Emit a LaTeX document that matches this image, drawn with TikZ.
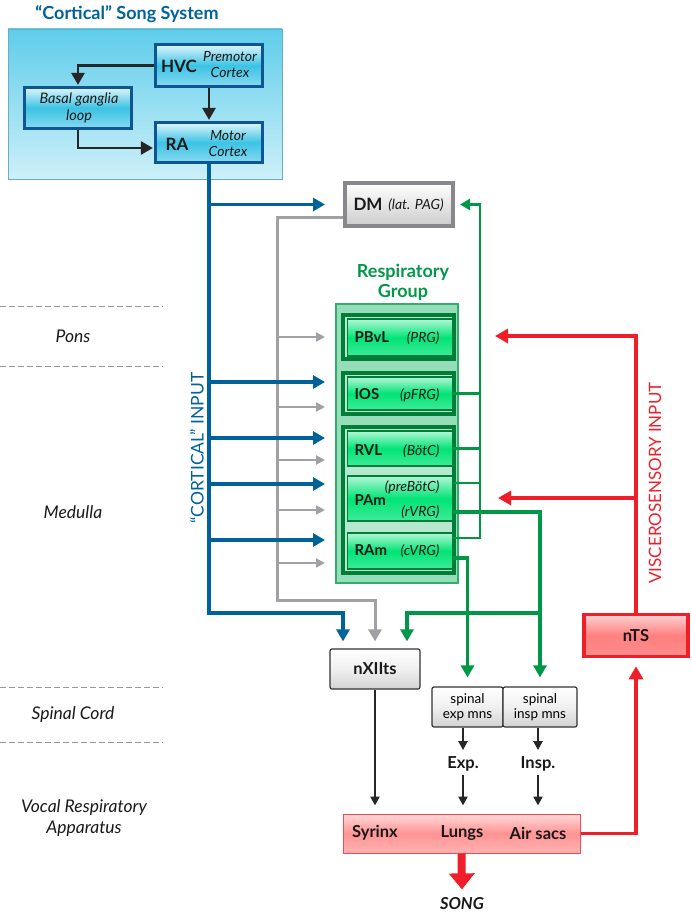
\documentclass[tikz,border=0pt]{standalone}
\usepackage{fontspec}
\setmainfont{Lato}
\usetikzlibrary{arrows.meta}

\newlength{\du}
\setlength{\du}{1pt}
\newcommand{\fsz}[2]{\fontsize{#1}{#2}\selectfont}

\definecolor{cortblue}{RGB}{0,98,155}
\definecolor{boxblue}{RGB}{15,85,145}
\definecolor{skytop}{RGB}{95,205,235}
\definecolor{skybot}{RGB}{205,240,249}
\definecolor{skymid}{RGB}{60,195,228}
\definecolor{respgreen}{RGB}{0,152,70}
\definecolor{darkgreen}{RGB}{0,125,55}
\definecolor{lightgreen}{RGB}{150,222,185}
\definecolor{brightgreen}{RGB}{0,228,118}
\definecolor{paggray}{RGB}{160,160,165}
\definecolor{viscred}{RGB}{240,30,40}
\definecolor{textgray}{RGB}{25,25,25}

\tikzset{
  % boxes
  cortexbg/.style={draw=skytop!60!gray, line width=0.8\du, top color=skytop, bottom color=skybot},
  cortexbox/.style={draw=boxblue, line width=3.2\du, top color=skytop!20, bottom color=skytop!75, middle color=skymid, minimum width=107\du, inner sep=0pt},
  dmbox/.style={draw=paggray!85!black, line width=4\du, top color=white, bottom color=gray!40, middle color=gray!20, minimum width=108\du, minimum height=43\du},
  grpbox/.style={draw=respgreen!80, line width=1.2\du, fill=lightgreen},
  rframe/.style={draw=darkgreen, line width=4\du, fill=lightgreen!70, minimum width=111\du},
  respbox/.style={draw=darkgreen, line width=1.6\du, top color=brightgreen!30, bottom color=brightgreen!75, middle color=brightgreen, minimum width=105\du, inner sep=0pt},
  greybox/.style={draw=black!80, line width=1.2\du, rounded corners=2\du, top color=white, bottom color=gray!35, middle color=gray!12},
  apparbox/.style={draw=viscred!80, line width=1\du, top color=red!15, bottom color=red!30, middle color=red!42},
  ntsbox/.style={draw=viscred, line width=3.5\du, top color=red!18, bottom color=red!45, middle color=red!50, minimum width=104\du, minimum height=42\du},
  % texts
  bigbold/.style={font=\fsz{17}{20}\bfseries, text=textgray},
  midbold/.style={font=\fsz{15}{18}\bfseries, text=textgray},
  lowbold/.style={font=\fsz{16.5}{19}\bfseries, text=textgray},
  itsub/.style={font=\fsz{14}{16}\itshape, text=textgray, align=center},
  regiontxt/.style={font=\fsz{17.5}{21}\itshape, text=textgray, align=center},
  % wires
  bluewire/.style={line width=3.6\du, draw=cortblue},
  graywire/.style={line width=3\du, draw=paggray},
  grayfine/.style={line width=2\du, draw=paggray},
  greenwire/.style={line width=2.4\du, draw=respgreen},
  greenthick/.style={line width=3.8\du, draw=respgreen},
  redwire/.style={line width=3.8\du, draw=viscred},
  blackwire/.style={line width=2.6\du, draw=black!85},
  bigtip/.style={-{Triangle[length=12pt,width=13pt]}},
  smalltip/.style={-{Triangle[length=9pt,width=9pt]}},
  redtip/.style={-{Triangle[length=13pt,width=14pt]}},
  regionline/.style={draw=gray!80, line width=0.9\du, dash pattern=on 6pt off 3pt}
}

\begin{document}
\begin{tikzpicture}
\pgftransformxscale{1.000000}
\pgftransformyscale{-1.000000}
\useasboundingbox (0\du,0\du) rectangle (692\du,915\du);

% cortical song system
\node[font=\fsz{18}{21}\bfseries, text=cortblue] (title) at (127\du,14\du){“Cortical” Song System};
\node[cortexbg, minimum width=274\du, minimum height=150\du] (cortex) at (145\du,104\du){};
\node[cortexbox, minimum height=42\du] (hvc) at (209\du,65.5\du){};
\node[cortexbox, minimum height=41\du] (basal) at (78\du,108\du){};
\node[cortexbox, minimum height=40\du] (ra) at (209\du,142.5\du){};
\node[bigbold] (hvclab) at (179\du,66\du){HVC};
\node[itsub] (hvcsub) at (230\du,64.5\du){Premotor\\Cortex};
\node[itsub, font=\fsz{14.5}{16.5}\itshape] (basallab) at (79\du,108\du){Basal ganglia\\loop};
\node[bigbold] (ralab) at (177\du,144\du){RA};
\node[itsub] (rasub) at (228\du,143.5\du){Motor\\Cortex};
\draw[blackwire, bigtip, shorten >=1pt] (hvc.west) -| (basal.north);
\draw[blackwire, bigtip, shorten >=1pt] (hvc.south) -- (ra.north);
\draw[blackwire, bigtip, shorten >=1pt] (basal.south) |- (ra.west |- 0\du,148\du);

% brainstem levels
\foreach \y in {306,366,687,742}
  \draw[regionline] (0\du,\y\du) -- (163\du,\y\du);
\node[regiontxt] (pons) at (73\du,336\du){Pons};
\node[regiontxt] (medulla) at (73\du,512\du){Medulla};
\node[regiontxt] (cord) at (73\du,715\du){Spinal Cord};
\node[regiontxt] (vocal) at (84\du,818\du){Vocal Respiratory\\Apparatus};

% DM and respiratory group
\node[dmbox] (dm) at (399\du,204.5\du){};
\node[font=\fsz{17}{20}\bfseries, text=textgray] (dmlab) at (368\du,204\du){DM};
\node[itsub] (dmsub) at (416\du,205\du){(lat. PAG)};
\node[font=\fsz{18}{20}\bfseries, text=respgreen, align=center] (resptitle) at (403\du,282\du){Respiratory\\Group};
\node[grpbox, minimum width=122\du, minimum height=279\du] (grp) at (397\du,443.5\du){};
\node[rframe, minimum height=44\du] (fr1) at (398.5\du,337\du){};
\node[rframe, minimum height=41\du] (fr2) at (398.5\du,393.5\du){};
\node[rframe, minimum height=146\du] (fr3) at (398.5\du,500\du){};
\node[respbox, minimum height=37\du] (pbvl) at (400\du,337.5\du){};
\node[respbox, minimum height=33\du] (ios) at (400\du,393.5\du){};
\node[respbox, minimum height=35\du] (rvl) at (400\du,448.5\du){};
\node[respbox, minimum height=45\du] (pam) at (400\du,498.5\du){};
\node[respbox, minimum height=36\du] (ram) at (400\du,551\du){};
\node[midbold, anchor=west] (pbvllab) at (351\du,337\du){PBvL};
\node[itsub, anchor=east] (pbvlsub) at (443\du,338\du){(PRG)};
\node[midbold, anchor=west] (ioslab) at (351\du,394\du){IOS};
\node[itsub, anchor=east] (iossub) at (443\du,395\du){(pFRG)};
\node[midbold, anchor=west] (rvllab) at (351\du,450\du){RVL};
\node[itsub, anchor=east] (rvlsub) at (443\du,451\du){(BötC)};
\node[midbold, anchor=west] (pamlab) at (351\du,500\du){PAm};
\node[itsub, anchor=east] (pamsub) at (443\du,487\du){(preBötC)};
\node[itsub, anchor=east] (pamsubb) at (443\du,512\du){(rVRG)};
\node[midbold, anchor=west] (ramlab) at (351\du,550\du){RAm};
\node[itsub, anchor=east] (ramsub) at (443\du,551\du){(cVRG)};

% lower boxes
\node[greybox, minimum width=90\du, minimum height=40\du] (nxii) at (375\du,669\du){};
\node[lowbold] (nxiilab) at (375\du,669\du){nXIIts};
\node[greybox, minimum width=71\du, minimum height=40\du, font=\fsz{13.5}{15.5}, align=center] (spexp) at (467.5\du,707\du){spinal\\exp mns};
\node[greybox, minimum width=74\du, minimum height=40\du, font=\fsz{13.5}{15.5}, align=center] (spinsp) at (540\du,707\du){spinal\\insp mns};
\node[lowbold] (exptxt) at (463\du,764\du){Exp.};
\node[lowbold] (insptxt) at (538\du,764\du){Insp.};
\node[apparbox, minimum width=237\du, minimum height=39\du] (appar) at (461.5\du,833.5\du){};
\node[lowbold] (syrinx) at (375\du,833\du){Syrinx};
\node[lowbold] (lungs) at (462\du,833\du){Lungs};
\node[lowbold] (airsacs) at (538\du,833\du){Air sacs};
\node[font=\fsz{16.5}{19}\bfseries\itshape, text=textgray] (song) at (462\du,904\du){SONG};
\node[ntsbox] (nts) at (636\du,635.5\du){};
\node[lowbold] (ntslab) at (636\du,636\du){nTS};

% side labels
\node[rotate=90, font=\fsz{17.5}{20}, text=cortblue] (cortin) at (197\du,448\du){“CORTICAL” INPUT};
\node[rotate=90, font=\fsz{17}{20}, text=viscred] (viscin) at (655\du,483\du){VISCEROSENSORY INPUT};

% PAG input
\coordinate (graybend) at (277\du,600\du);
\draw[graywire, bigtip, shorten >=7pt] (dm.west |- 0\du,217\du) -| (graybend) -| (nxii.north);
\foreach \y [count=\i] in {337,407,460,510,563}{
  \coordinate (gin\i) at (325\du,\y\du);
  \draw[grayfine, smalltip] (graybend |- gin\i) -- (gin\i);
}

% cortical input
\coordinate (bluebend) at (343\du,613\du);
\draw[bluewire, bigtip, shorten >=7pt] (ra.south) |- (bluebend) -- (bluebend |- nxii.north);
\draw[bluewire, bigtip, shorten >=18pt] (ra.south |- dm.west) -- (dm.west);
\foreach \y [count=\i] in {382,438,484,540}{
  \coordinate (bin\i) at (325\du,\y\du);
  \draw[bluewire, bigtip] (ra.south |- bin\i) -- (bin\i);
}

% respiratory group outputs
\coordinate (gtrunk) at (480\du,538\du);
\draw[greenwire, -{Triangle[length=10pt,width=11pt]}, shorten >=5pt] (ram.east |- gtrunk) -- (gtrunk) |- (dm.east);
\draw[greenwire] (ios.east) -- (ios.east -| gtrunk);
\draw[greenwire] (rvl.east) -- (rvl.east -| gtrunk);
\draw[greenwire] (pam.east |- 0\du,483\du) -- (gtrunk |- 0\du,483\du);
\draw[greenthick, bigtip, shorten >=9pt] (pam.east |- 0\du,512\du) -| (spinsp.north);
\draw[greenthick, bigtip, shorten >=9pt] (ram.east |- 0\du,558\du) -| (spexp.north);
\coordinate (gnx) at (407\du,613\du);
\draw[greenthick, bigtip, shorten >=7pt] (spinsp.north |- gnx) -- (gnx) -- (gnx |- nxii.north);

% motor outputs
\draw[blackwire, smalltip, shorten >=3pt] (exptxt |- spexp.south) -- (exptxt.north);
\draw[blackwire, smalltip, shorten >=3pt] (insptxt |- spinsp.south) -- (insptxt.north);
\draw[blackwire, smalltip, shorten >=8pt] (exptxt.south) -- (exptxt |- appar.north);
\draw[blackwire, smalltip, shorten >=8pt] (insptxt.south) -- (insptxt |- appar.north);
\draw[blackwire, smalltip, shorten >=8pt] (nxii.south) -- (nxii.south |- appar.north);
\draw[line width=8\du, draw=viscred, -{Triangle[length=16pt,width=25pt]}, shorten >=5pt] (appar.south) -- (song.north);

% viscerosensory input
\coordinate (rin1) at (495\du,336\du);
\coordinate (rin2) at (498\du,498\du);
\draw[redwire, redtip, shorten >=8pt] (appar.east) -| (nts.south);
\draw[redwire, redtip] (nts.north) |- (rin1);
\draw[redwire, redtip] (nts.north |- rin2) -- (rin2);
\end{tikzpicture}
\end{document}
